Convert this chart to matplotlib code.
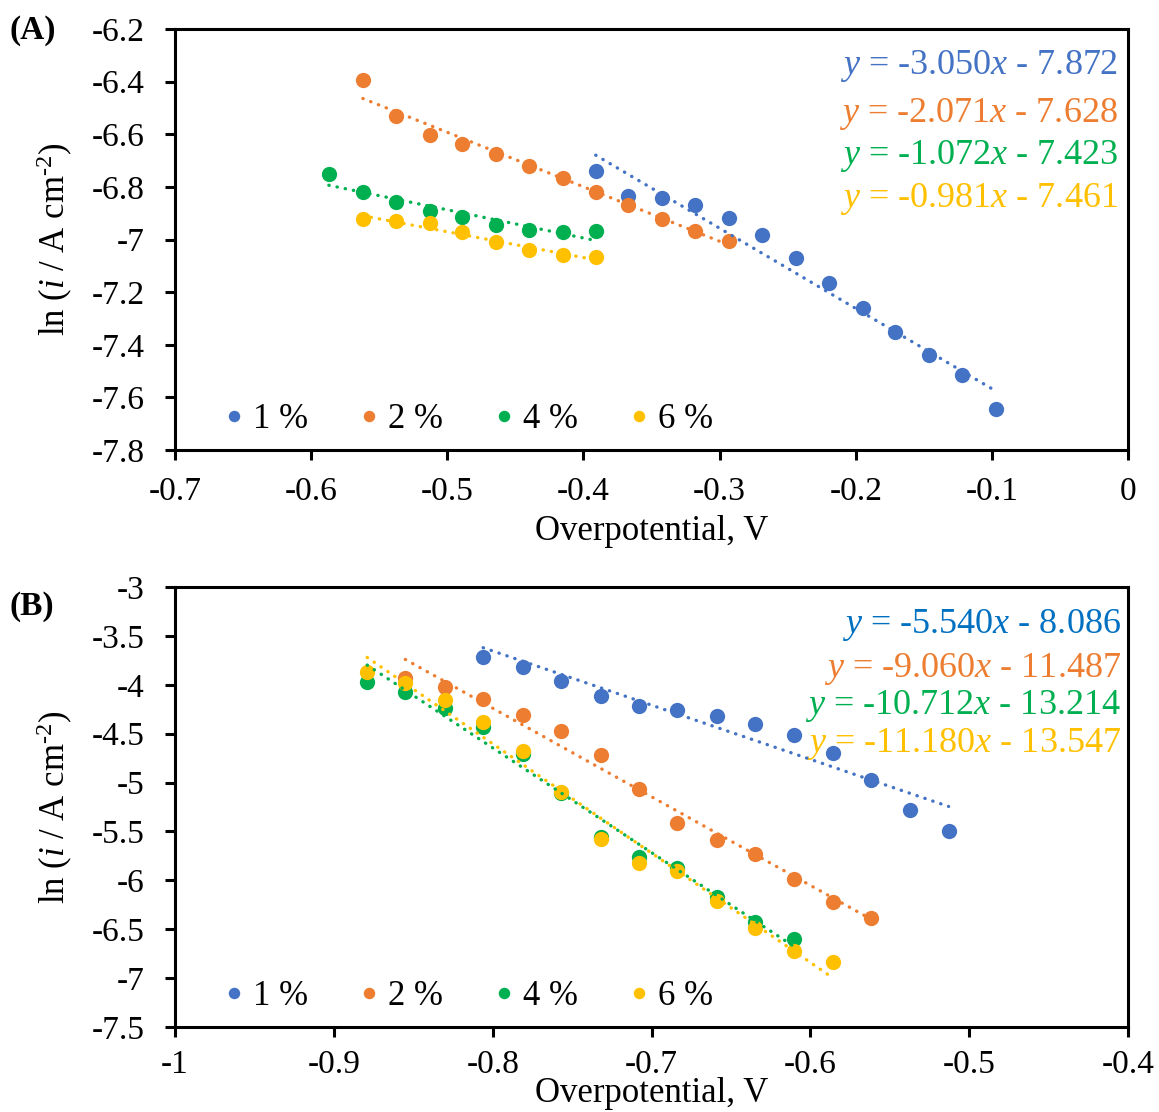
import numpy as np
import matplotlib
matplotlib.use("Agg")
import matplotlib.pyplot as plt
from matplotlib.ticker import FuncFormatter, MultipleLocator

plt.rcParams['font.family'] = ['Liberation Serif', 'DejaVu Serif']
plt.rcParams['mathtext.fontset'] = 'custom'
plt.rcParams['mathtext.rm'] = 'Liberation Serif'
plt.rcParams['mathtext.it'] = 'Liberation Serif:italic'
plt.rcParams['axes.unicode_minus'] = False

labels = ["1 %", "2 %", "4 %", "6 %"]
colors = ["#4472C4", "#ED7D31", "#00B050", "#FFC000"]

# ---- panel A data (overpotential V, ln i)
a_x1 = [-0.391, -0.367, -0.342, -0.318, -0.293, -0.269, -0.244, -0.220, -0.195, -0.171, -0.146, -0.122, -0.097]
a_y1 = [-6.739, -6.836, -6.843, -6.867, -6.919, -6.984, -7.071, -7.165, -7.261, -7.350, -7.438, -7.513, -7.645]
a_x2 = [-0.562, -0.538, -0.513, -0.489, -0.464, -0.440, -0.415, -0.391, -0.367, -0.342, -0.318, -0.293]
a_y2 = [-6.395, -6.532, -6.604, -6.638, -6.676, -6.720, -6.765, -6.818, -6.870, -6.922, -6.966, -7.004]
a_x4 = [-0.587, -0.562, -0.538, -0.513, -0.489, -0.464, -0.440, -0.415, -0.391]
a_y4 = [-6.751, -6.821, -6.859, -6.891, -6.916, -6.943, -6.964, -6.970, -6.967]
a_x6 = [-0.562, -0.538, -0.513, -0.489, -0.464, -0.440, -0.415, -0.391]
a_y6 = [-6.922, -6.930, -6.938, -6.971, -7.011, -7.040, -7.059, -7.067]
a_slope = [-3.050, -2.071, -1.072, -0.981]
a_icpt = [-7.872, -7.628, -7.423, -7.461]

# ---- panel B data
b_x1 = [-0.806, -0.781, -0.757, -0.732, -0.708, -0.684, -0.659, -0.635, -0.610, -0.586, -0.562, -0.537, -0.513]
b_y1 = [-3.713, -3.815, -3.958, -4.111, -4.214, -4.258, -4.322, -4.398, -4.516, -4.700, -4.973, -5.280, -5.492]
b_x2 = [-0.855, -0.830, -0.806, -0.781, -0.757, -0.732, -0.708, -0.684, -0.659, -0.635, -0.610, -0.586, -0.562]
b_y2 = [-3.934, -4.026, -4.148, -4.309, -4.469, -4.721, -5.069, -5.410, -5.587, -5.727, -5.989, -6.218, -6.385]
b_x4 = [-0.879, -0.855, -0.830, -0.806, -0.781, -0.757, -0.732, -0.708, -0.684, -0.659, -0.635, -0.610]
b_y4 = [-3.968, -4.071, -4.240, -4.435, -4.708, -5.109, -5.559, -5.758, -5.876, -6.167, -6.422, -6.602]
b_x6 = [-0.879, -0.855, -0.830, -0.806, -0.781, -0.757, -0.732, -0.708, -0.684, -0.659, -0.635, -0.610, -0.586]
b_y6 = [-3.866, -3.985, -4.155, -4.383, -4.677, -5.099, -5.580, -5.825, -5.901, -6.208, -6.484, -6.722, -6.837]
b_slope = [-5.540, -9.060, -10.712, -11.180]
b_icpt = [-8.086, -11.487, -13.214, -13.547]

eq_colors_b = ["#0070C0", "#ED7D31", "#00B050", "#FFC000"]


def fmt(v, pos):
    return "%g" % round(v, 3)


def eq_text(m, c):
    return r"$\mathit{y}$ = %.3f$\mathit{x}$ - %.3f" % (m, -c)


def draw_panel(ax, xs, ys, slopes, icpts, eq_cols, eq_ypos, eq_x):
    for i in range(4):
        ax.plot(xs[i], ys[i], "o", color=colors[i], ms=11, mec="none",
                label=labels[i], zorder=3)
    for i in range(4):
        xx = np.array([min(xs[i]), max(xs[i])])
        ax.plot(xx, slopes[i] * xx + icpts[i], color=colors[i], lw=2.4,
                linestyle=(0, (0.1, 2.4)), dash_capstyle="round", zorder=4)
        ax.text(eq_x, eq_ypos[i], eq_text(slopes[i], icpts[i]), transform=ax.transAxes,
                ha="right", va="center", color=eq_cols[i], fontsize=26)
    for s in ax.spines.values():
        s.set_linewidth(2.2)
        s.set_color("black")
    ax.tick_params(direction="out", length=7, width=2.2, labelsize=24)
    ax.tick_params(axis="y", pad=15)
    ax.tick_params(axis="x", pad=12)
    ax.yaxis.set_major_formatter(FuncFormatter(fmt))
    ax.xaxis.set_major_formatter(FuncFormatter(fmt))
    ax.set_ylabel(r"ln ($\mathit{i}$ / A cm$^{\text{-2}}$)", fontsize=25, labelpad=12)
    ax.legend(loc="lower left", bbox_to_anchor=(0.04, 0.0), ncol=4, frameon=False,
              fontsize=25, handlelength=0.4, handletextpad=0.35, columnspacing=1.55,
              markerscale=0.75, borderaxespad=0.0)


fig = plt.figure(figsize=(11.59, 11.12), dpi=100)

axA = fig.add_axes([0.151, 0.5953, 0.8223, 0.3786])
draw_panel(axA, [a_x1, a_x2, a_x4, a_x6], [a_y1, a_y2, a_y4, a_y6], a_slope, a_icpt,
           colors, [0.912, 0.798, 0.699, 0.597], 0.9895)
axA.set_xlim(-0.7, 0)
axA.set_ylim(-7.8, -6.2)
axA.xaxis.set_major_locator(MultipleLocator(0.1))
axA.yaxis.set_major_locator(MultipleLocator(0.2))
axA.set_xlabel("Overpotential, V", fontsize=25, labelpad=6)

axB = fig.add_axes([0.151, 0.0764, 0.8223, 0.3957])
draw_panel(axB, [b_x1, b_x2, b_x4, b_x6], [b_y1, b_y2, b_y4, b_y6], b_slope, b_icpt,
           eq_colors_b, [0.914, 0.814, 0.730, 0.644], 0.9927)
axB.set_xlim(-1, -0.4)
axB.set_ylim(-7.5, -3)
axB.xaxis.set_major_locator(MultipleLocator(0.1))
axB.yaxis.set_major_locator(MultipleLocator(0.5))
axB.tick_params(axis="x", pad=9)
axB.set_xlabel("Overpotential, V", fontsize=25, labelpad=-2)

fig.text(0.008, 0.973, "(A)", fontsize=24, fontweight="bold", va="center")
fig.text(0.008, 0.455, "(B)", fontsize=24, fontweight="bold", va="center")

fig.savefig("out.png", dpi=100)
